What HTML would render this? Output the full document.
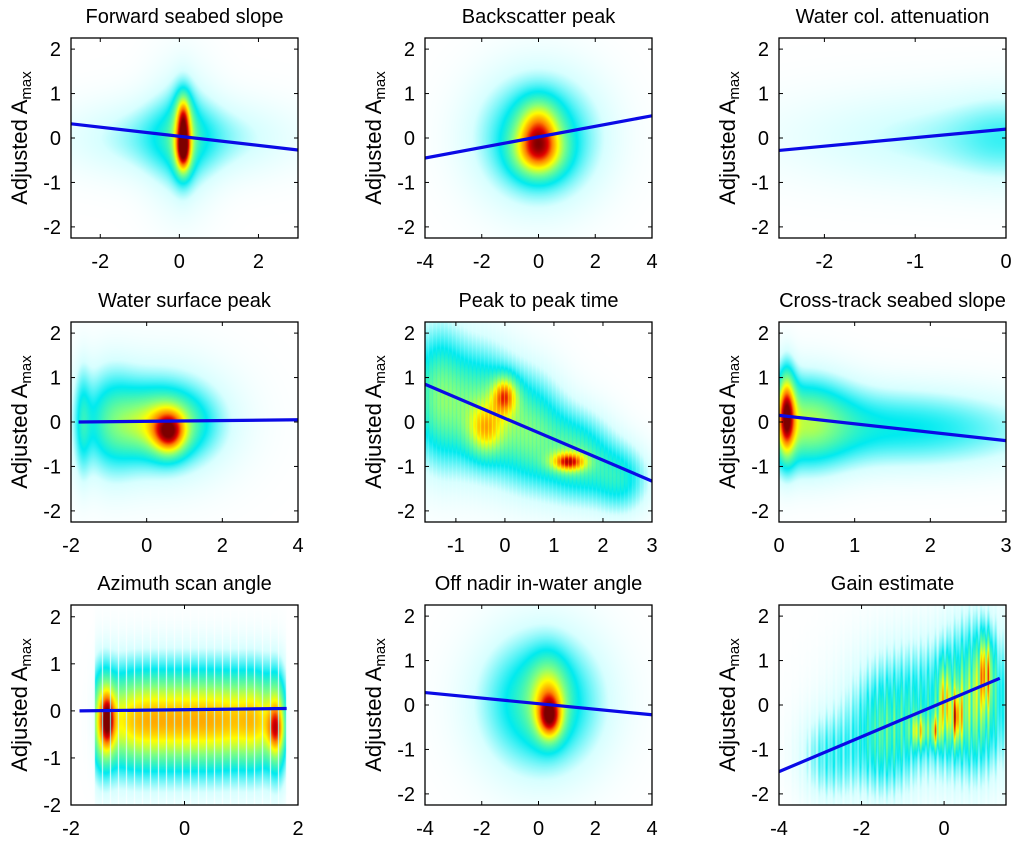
<!DOCTYPE html>
<html><head><meta charset="utf-8">
<style>
html,body{margin:0;padding:0;background:#fff;}
#wrap{position:relative;width:1024px;height:845px;overflow:hidden;font-family:"Liberation Sans",Arial,sans-serif;}
canvas{position:absolute;}
svg{position:absolute;left:0;top:0;}
</style></head>
<body>
<div id="wrap">
<svg id="ov" width="1024" height="845"></svg>
</div>
<script>
// ---- data ----
const titles = ["Forward seabed slope","Backscatter peak","Water col. attenuation","Water surface peak","Peak to peak time","Cross-track seabed slope","Azimuth scan angle","Off nadir in-water angle","Gain estimate"];
const xRanges = [[-2.74,3],[-4,4],[-2.5,0],[-2,4],[-1.63,3],[0,3],[-2,2],[-4,4],[-4,1.5]];
const yRanges = [[-2.25,2.25],[-2.25,2.25],[-2.25,2.25],[-2.25,2.25],[-2.25,2.25],[-2.25,2.25],[-2,2.25],[-2.25,2.25],[-2.25,2.25]];
const xTicks = [[-2,0,2],[-4,-2,0,2,4],[-2,-1,0],[-2,0,2,4],[-1,0,1,2,3],[0,1,2,3],[-2,0,2],[-4,-2,0,2,4],[-4,-2,0]];
const yTicks = [-2,-1,0,1,2];
// regression lines: [x0,y0,x1,y1]
const fitLines = [[-2.74,0.32,3,-0.27],[-4,-0.45,4,0.5],[-2.5,-0.28,0,0.2],[-1.8,0.0,4,0.05],[-1.63,0.85,3,-1.33],[0,0.15,3,-0.42],[-1.85,0.0,1.8,0.05],[-4,0.28,4,-0.22],[-4,-1.5,1.35,0.6]];
// density blobs: [cx, cy, sx, sy, weight]
const blobs1 = [[0.1,-0.3,0.13,0.35,0.5],[0.1,0.5,0.12,0.35,0.35],[0.1,0.1,0.2,0.7,0.28],[0,0,1.8,0.6,0.22],[0.05,0,0.6,1.1,0.18]];
const blobs2 = [[0,-0.3,0.6,0.4,0.5],[0,0.35,0.5,0.4,0.3],[0,0,1.5,1.0,0.4]];
const blobs3 = [[-0.4,0,1.4,0.75,0.16],[0,0,0.4,0.7,0.1]];
const blobs4 = [[0.6,-0.25,0.3,0.35,0.45],[0.4,-0.05,0.8,0.5,0.35],[0.3,0,1.3,0.9,0.3],[-1.7,0,0.15,0.9,0.2],[-1,0,0.5,0.9,0.2]];
const blobs5 = [[0,0.6,0.18,0.3,0.45],[1.3,-0.9,0.25,0.15,0.5],[-0.4,-0.2,0.25,0.4,0.3],[-1.4,0.6,0.4,1.1,0.42],[-0.5,0.3,0.5,1.0,0.42],[0.5,-0.2,0.5,0.9,0.42],[1.5,-0.8,0.5,0.7,0.4],[2.4,-1.3,0.4,0.55,0.3]];
const blobs6 = [[0.1,0.2,0.08,0.7,0.6],[0.3,0,0.45,0.75,0.4],[1.2,-0.1,1.0,0.65,0.22],[2.5,-0.2,1.0,0.6,0.15]];
const blobs7 = [[-1.45,-0.2,0.15,0.8,0.5],[-1.1,-0.2,0.3,0.8,0.5],[-0.6,-0.2,0.3,0.8,0.5],[-0.1,-0.2,0.3,0.8,0.5],[0.4,-0.2,0.3,0.8,0.5],[0.9,-0.2,0.3,0.8,0.5],[1.35,-0.2,0.25,0.8,0.5],[1.65,-0.3,0.12,0.8,0.45],[-1.35,-0.2,0.08,0.4,0.3],[1.6,-0.4,0.1,0.3,0.2]];
const blobs8 = [[0.4,-0.3,0.3,0.35,0.45],[0.35,0.2,0.45,0.6,0.3],[0.1,0.05,1.5,1.1,0.42]];
const blobs9 = [[1.0,0.8,0.12,0.55,0.5],[0.3,-0.3,0.1,0.4,0.5],[-0.2,-0.6,0.08,0.25,0.45],[0,0.1,0.1,0.6,0.4],[-0.6,-0.6,0.15,0.25,0.4],[-0.3,-0.1,1.3,1.1,0.4],[0.8,0.3,0.5,1.2,0.4],[-2.8,-1.2,0.5,0.7,0.28],[-1.5,-0.8,0.5,0.9,0.3]];
const allBlobs = [blobs1,blobs2,blobs3,blobs4,blobs5,blobs6,blobs7,blobs8,blobs9];

// ---- layout ----
const colX = [71,425,779], rowY = [38,322,605], W = 227, H = 200;
const NS = "http://www.w3.org/2000/svg";
const ov = document.getElementById('ov');
const wrap = document.getElementById('wrap');
const stops = [[0,[255,255,255]],[0.12,[215,255,255]],[0.3,[0,235,240]],[0.5,[128,255,128]],[0.65,[255,255,0]],[0.8,[255,130,0]],[0.9,[225,0,0]],[1,[125,0,0]]];
function cmap(t){
  t=Math.max(0,Math.min(1,t));
  for(let i=1;i<stops.length;i++){ if(t<=stops[i][0]){ const a=stops[i-1],b=stops[i]; const f=(t-a[0])/(b[0]-a[0]); return a[1].map((v,k)=>v+(b[1][k]-v)*f);} }
  return stops[stops.length-1][1];
}
function mk(tag,attrs,parent){const e=document.createElementNS(NS,tag);for(const k in attrs)e.setAttribute(k,attrs[k]);(parent||ov).appendChild(e);return e;}

for(let p=0;p<9;p++){
  const X0=colX[p%3], Y0=rowY[Math.floor(p/3)];
  const [xa,xb]=xRanges[p], [ya,yb]=yRanges[p];
  const sx=v=>X0+(v-xa)/(xb-xa)*W, sy=v=>Y0+H-(v-ya)/(yb-ya)*H;
  const cv=document.createElement('canvas');
  cv.width=W;cv.height=H;cv.style.left=X0+'px';cv.style.top=Y0+'px';
  
  
  wrap.insertBefore(cv,ov);
  const ctx=cv.getContext('2d'); const img=ctx.createImageData(W,H);
  const bl=allBlobs[p];
  for(let j=0;j<H;j++){ const y=yb-(j+0.5)/H*(yb-ya);
    for(let i=0;i<W;i++){ const x=xa+(i+0.5)/W*(xb-xa);
      let d=0; for(const b of bl){ const dx=(x-b[0])/b[2], dy=(y-b[1])/b[3]; d+=b[4]*Math.exp(-0.5*(dx*dx+dy*dy)); }
      if(p===6){ if(x<-1.6||x>1.8) d*=0.1; if(i%8===7) d*=0.2; }
      if(p===8){ d*=0.75+0.25*Math.sin(i*1.3)*Math.sin(i*0.37); }
      if(p===4){ if(i%4===3) d*=0.9; }
      const c=cmap(d); const o=(j*W+i)*4;
      img.data[o]=c[0];img.data[o+1]=c[1];img.data[o+2]=c[2];img.data[o+3]=255; }
  }
  ctx.putImageData(img,0,0);
  const g=mk('g',{});
  
  
  const cp=mk('clipPath',{id:'cp'+p},g); mk('rect',{x:X0,y:Y0,width:W,height:H},cp);
  const ln=mk('line',{x1:sx(fitLines[p][0]),y1:sy(fitLines[p][1]),x2:sx(fitLines[p][2]),y2:sy(fitLines[p][3]),stroke:'#0a0ae6','stroke-width':3.2,'clip-path':'url(#cp'+p+')'},g);
  
  
  const fr=mk('rect',{x:X0,y:Y0,width:W,height:H,fill:'none',stroke:'#000','stroke-width':1.3},g);
  
  
  for(const t of xTicks[p]){ const x=sx(t);
    mk('line',{x1:x,y1:Y0+H,x2:x,y2:Y0+H-4,stroke:'#000'},g); mk('line',{x1:x,y1:Y0,x2:x,y2:Y0+4,stroke:'#000'},g);
    const tx=mk('text',{x:x,y:Y0+H+30,'text-anchor':'middle','font-size':20,fill:'#000'},g); tx.textContent=t;
    
     }
  for(const t of yTicks){ if(t<ya-1e-9||t>yb+1e-9) continue; const y=sy(t);
    mk('line',{x1:X0,y1:y,x2:X0+4,y2:y,stroke:'#000'},g); mk('line',{x1:X0+W,y1:y,x2:X0+W-4,y2:y,stroke:'#000'},g);
    const ty=mk('text',{x:X0-10,y:y+7,'text-anchor':'end','font-size':20,fill:'#000'},g); ty.textContent=t;
    
     }
  const tt=mk('text',{x:X0+W/2,y:Y0-15,'text-anchor':'middle','font-size':20,fill:'#000'},g); tt.textContent=titles[p];
  
  
  const yl=mk('text',{x:0,y:0,'text-anchor':'middle','font-size':22,fill:'#000',transform:'translate('+(X0-44)+','+(Y0+H/2)+') rotate(-90)'},g);
  yl.innerHTML='Adjusted A<tspan font-size="15" dy="4">max</tspan>';
  
  
}
</script>
</body></html>
